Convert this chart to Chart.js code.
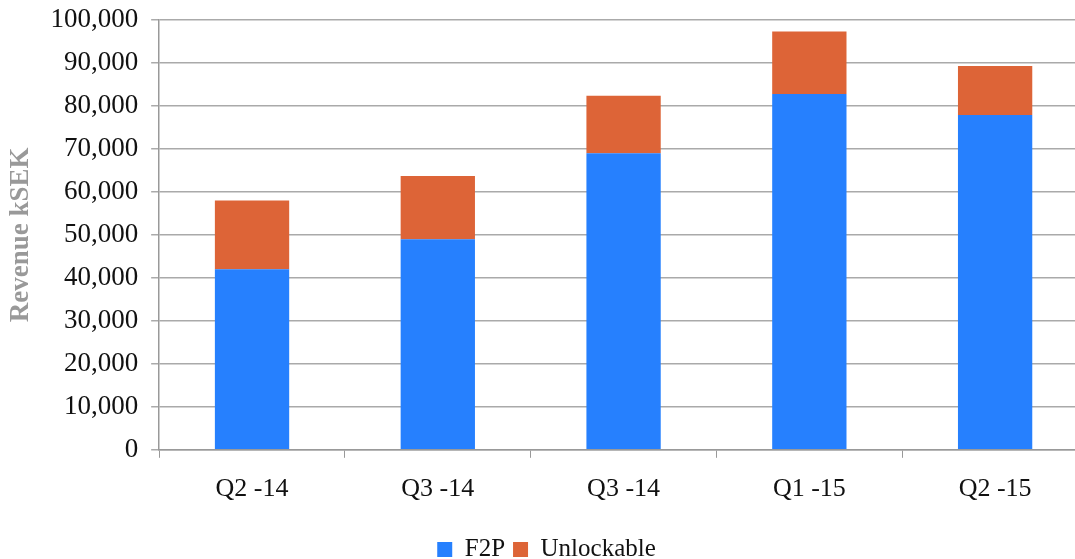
<!DOCTYPE html>
<html>
<head>
<meta charset="utf-8">
<script src="https://cdn.jsdelivr.net/npm/chart.js@4"></script>
<style>
  html, body { margin: 0; padding: 0; background: #fff; overflow: hidden; }
  #wrap { position: relative; width: 1088px; height: 559px; }
</style>
</head>
<body>
<div id="wrap"><canvas id="chart"></canvas></div>
<script>
const quarters = ['Q2 -14', 'Q3 -14', 'Q3 -14', 'Q1 -15', 'Q2 -15'];
const f2p = [42000, 49000, 69000, 82800, 77900];
const unlockable = [16000, 14700, 13400, 14500, 11400];
const yTicks = [0, 10000, 20000, 30000, 40000, 50000, 60000, 70000, 80000, 90000, 100000];

const serif = 'Liberation Serif';

const createChart = (canvas) => {
  if (!canvas || !canvas.getContext) {
    console.error('Invalid canvas element');
    return;
  }

  canvas.chart = new Chart(canvas.getContext('2d'), {
    type: 'bar',
    data: {
      labels: quarters,
      datasets: [
        {
          label: 'F2P',
          data: f2p,
          backgroundColor: '#2680fe',
          barPercentage: 0.4,
          categoryPercentage: 1
        },
        {
          label: 'Unlockable',
          data: unlockable,
          backgroundColor: '#dd6437',
          barPercentage: 0.4,
          categoryPercentage: 1
        }
      ]
    },
    options: {
      responsive: true,
      maintainAspectRatio: false,
      animation: false,
      layout: {
        padding: { top: 0, left: 5, right: 0, bottom: -13 }
      },
      scales: {
        x: {
          stacked: true,
          afterFit: (axis) => {
            axis.height += 8;
          },
          grid: {
            drawOnChartArea: false,
            drawTicks: true,
            tickLength: 8,
            color: '#999'
          },
          border: { color: '#999', width: 1.5 },
          ticks: {
            color: '#111',
            padding: 16,
            font: { family: serif, size: 26 }
          }
        },
        y: {
          stacked: true,
          min: 0,
          max: 100000,
          afterBuildTicks: (axis) => {
            axis.ticks = yTicks.map((v) => ({ value: v }));
          },
          afterFit: (axis) => {
            // tick padding would otherwise push the plot down
            axis.paddingTop = 20;
          },
          grid: {
            color: '#aaaaaa',
            lineWidth: 1.5,
            tickLength: 8
          },
          border: { color: '#999', width: 1.5 },
          ticks: {
            color: '#111',
            padding: 13,
            font: { family: serif, size: 27 },
            callback: (v) => v.toLocaleString('en-US')
          },
          title: {
            display: true,
            text: 'Revenue kSEK',
            color: '#999',
            padding: { top: 0, bottom: 0 },
            font: { family: serif, size: 27, weight: 'bold' }
          }
        }
      },
      plugins: {
        legend: {
          position: 'bottom',
          labels: {
            color: '#111',
            boxWidth: 15,
            boxHeight: 15,
            padding: 8,
            font: { family: serif, size: 25 }
          }
        },
        tooltip: { enabled: false }
      }
    }
  });
};

createChart(document.getElementById('chart'));
</script>
</body>
</html>
